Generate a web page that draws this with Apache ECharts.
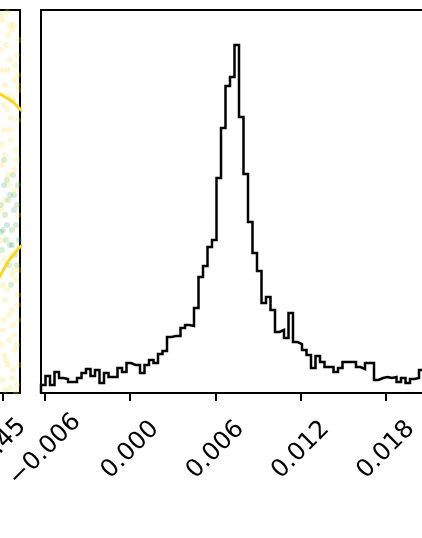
<!DOCTYPE html>
<html>
<head>
<meta charset="utf-8">
<script src="https://cdn.jsdelivr.net/npm/echarts@6/dist/echarts.min.js"></script>
<style>
html,body{margin:0;padding:0;background:#fff;}
#chart{width:422px;height:538px;}
</style>
</head>
<body>
<div id="chart"></div>
<script>
// ---- Diagonal histogram panel (right) ----
const histMin = -0.00628;
const binWidth = 0.0003167;
const histCounts = [
  8, 17, 8, 21, 15, 14, 11, 11, 15, 20,
  24, 17, 23, 10, 20, 16, 16, 25, 21, 30,
  28, 28, 20, 28, 33, 30, 39, 42, 56, 57,
  57, 65, 68, 67, 85, 116, 127, 146, 153, 215,
  265, 307, 316, 348, 276, 219, 171, 140, 122, 90,
  96, 83, 61, 63, 55, 80, 51, 49, 43, 38,
  25, 37, 31, 26, 26, 21, 25, 31, 31, 31,
  26, 24, 30, 30, 13, 15, 16, 15, 16, 11,
  15, 10, 14, 15, 23
];
const xTicks = [-0.006, 0.000, 0.006, 0.012, 0.018];
const xTickLabels = ['\u22120.006', '0.000', '0.006', '0.012', '0.018'];

// ---- Partially visible 2D panel (left) ----
const leftTicks = [0.45];
const leftTickLabels = ['0.45'];
const yellowPts = [
  [0.4495,0.0313],[0.4545,0.0303],[0.4515,0.0288],[0.457,0.0278],[0.45,0.0263],
  [0.4555,0.0253],[0.453,0.0238],[0.4575,0.0213],[0.4505,0.0203],[0.454,0.0193],
  [0.4565,0.0183],[0.4495,0.0168],[0.4525,0.0158],[0.456,0.0143],[0.451,0.0033],
  [0.4545,0.0023],[0.4575,0.0013],[0.45,0.0003],[0.453,-0.0007],[0.456,-0.0017],
  [0.4515,-0.0027],[0.455,-0.0037],[0.4495,-0.0047],[0.457,-0.0052],[0.4535,0.0308],
  [0.452,0.0223],[0.455,0.0233],[0.449,0.0283],[0.458,0.0293],[0.4535,0.0273],
  [0.451,0.0133],[0.4575,0.0118],[0.449,0.0093],[0.454,0.0078],[0.4565,0.0053],
  [0.452,0.0043],[0.4555,-0.0002],[0.4505,-0.0022],[0.458,-0.0032],[0.4535,-0.0055],
  [0.4525,0.0263],[0.4575,0.0248],[0.4505,0.0228],[0.4555,0.0163],[0.449,0.0123],
  [0.4545,0.0058],[0.4575,0.0028],[0.4505,0.0013],[0.4555,0.0308],[0.451,0.0178],
  [0.449,0.0318],[0.4525,0.0298],[0.456,0.0268],[0.451,0.0248],[0.458,0.0243],
  [0.454,0.0215],[0.4495,0.0188],[0.457,0.0173],[0.453,0.0148],[0.4555,0.0063],
  [0.45,0.0048],[0.4575,0.0038],[0.453,0.0018],[0.455,0.0008],[0.449,-0.0012],
  [0.457,-0.0012],[0.4525,-0.0032],[0.4545,-0.0045],[0.451,-0.0057],[0.4565,-0.0059],
  [0.452,0.0321],[0.4575,0.0258],[0.4535,0.0203],[0.4505,0.0073],[0.458,0.0063]
];
const greenPts = [
  [0.4505,0.0173],[0.455,0.0158],[0.4525,0.0133],[0.457,0.0128],[0.451,0.0118],
  [0.4545,0.0103],[0.4495,0.0083],[0.456,0.0078],[0.453,0.0068],[0.4575,0.0148],
  [0.4515,0.0093],[0.454,0.0048],[0.449,0.0128],[0.4565,0.0108],
  [0.452,0.0153],[0.4555,0.0138],[0.45,0.0103],[0.4535,0.0088],[0.457,0.0068]
];
const tealPts = [
  [0.4505,0.0148],[0.4535,0.0138],[0.4555,0.0123],[0.452,0.0108],[0.449,0.0101],
  [0.4545,0.0088],[0.458,0.0093]
];
const contourUpper = [
  [0.4435,0.0243],[0.4485,0.0239],[0.451,0.0236],[0.4535,0.0233],[0.456,0.0229],[0.4585,0.0224],[0.461,0.0219]
];
const contourLower = [
  [0.4435,0.0040],[0.4485,0.0057],[0.451,0.0066],[0.4535,0.0074],[0.456,0.0080],[0.4585,0.0086],[0.461,0.0089]
];

// Build step outline of histogram from bin counts
const stepData = [[histMin, 0]];
histCounts.forEach(function (c, i) {
  stepData.push([histMin + i * binWidth, c]);
  stepData.push([histMin + (i + 1) * binWidth, c]);
});

function labelFor(values, labels) {
  return function (v) {
    for (let i = 0; i < values.length; i++) {
      if (Math.abs(values[i] - v) < 1e-9) return labels[i];
    }
    return '';
  };
}

const chart = echarts.init(document.getElementById('chart'), null, {renderer: 'canvas'});
const labelFont = {
  fontFamily: 'DejaVu Sans', fontSize: 24.5, color: '#000',
  rotate: 45, align: 'center', verticalAlign: 'middle'
};
chart.setOption({
  animation: false,
  backgroundColor: '#fff',
  grid: [
    {left: 41, top: 10, width: 450, height: 383, show: true, borderColor: '#000', borderWidth: 2, backgroundColor: 'transparent', containLabel: false, outerBoundsMode: 'none'},
    {left: -430, top: 10, width: 450, height: 383, show: true, borderColor: '#000', borderWidth: 2, backgroundColor: 'transparent', containLabel: false, outerBoundsMode: 'none'}
  ],
  xAxis: [
    {
      type: 'value', gridIndex: 0, min: histMin, max: histMin + 100 * binWidth,
      axisLine: {show: false, onZero: false}, splitLine: {show: false},
      axisTick: {show: true, customValues: xTicks, length: 8, lineStyle: {color: '#000', width: 2}},
      axisLabel: Object.assign({show: true, customValues: xTicks, margin: 57, formatter: labelFor(xTicks, xTickLabels)}, labelFont)
    },
    {
      type: 'value', gridIndex: 1, min: 0.2335, max: 0.4585,
      axisLine: {show: false, onZero: false}, splitLine: {show: false},
      axisTick: {show: true, customValues: leftTicks, length: 8, lineStyle: {color: '#000', width: 2}},
      axisLabel: Object.assign({show: true, customValues: leftTicks, margin: 49, formatter: labelFor(leftTicks, leftTickLabels)}, labelFont)
    }
  ],
  yAxis: [
    {type: 'value', gridIndex: 0, min: 0, max: 383, axisLine: {show: false, onZero: false}, axisTick: {show: false}, axisLabel: {show: false}, splitLine: {show: false}},
    {type: 'value', gridIndex: 1, min: -0.006, max: 0.0323, axisLine: {show: false, onZero: false}, axisTick: {show: false}, axisLabel: {show: false}, splitLine: {show: false}}
  ],
  series: [
    {
      type: 'line', xAxisIndex: 0, yAxisIndex: 0, data: stepData,
      showSymbol: false, symbol: 'none', clip: true,
      lineStyle: {color: '#000', width: 2.5, join: 'miter'}
    },
    {type: 'scatter', xAxisIndex: 1, yAxisIndex: 1, data: yellowPts, symbolSize: 6, clip: true,
     itemStyle: {color: 'rgba(245,222,70,0.3)'}},
    {type: 'scatter', xAxisIndex: 1, yAxisIndex: 1, data: greenPts, symbolSize: 6, clip: true,
     itemStyle: {color: 'rgba(120,195,90,0.35)'}},
    {type: 'scatter', xAxisIndex: 1, yAxisIndex: 1, data: tealPts, symbolSize: 6, clip: true,
     itemStyle: {color: 'rgba(60,170,140,0.3)'}},
    {type: 'line', xAxisIndex: 1, yAxisIndex: 1, data: contourUpper, smooth: true, showSymbol: false, symbol: 'none', clip: true,
     lineStyle: {color: '#f9d71c', width: 3}},
    {type: 'line', xAxisIndex: 1, yAxisIndex: 1, data: contourLower, smooth: true, showSymbol: false, symbol: 'none', clip: true,
     lineStyle: {color: '#f9d71c', width: 3}}
  ]
});
</script>
</body>
</html>
